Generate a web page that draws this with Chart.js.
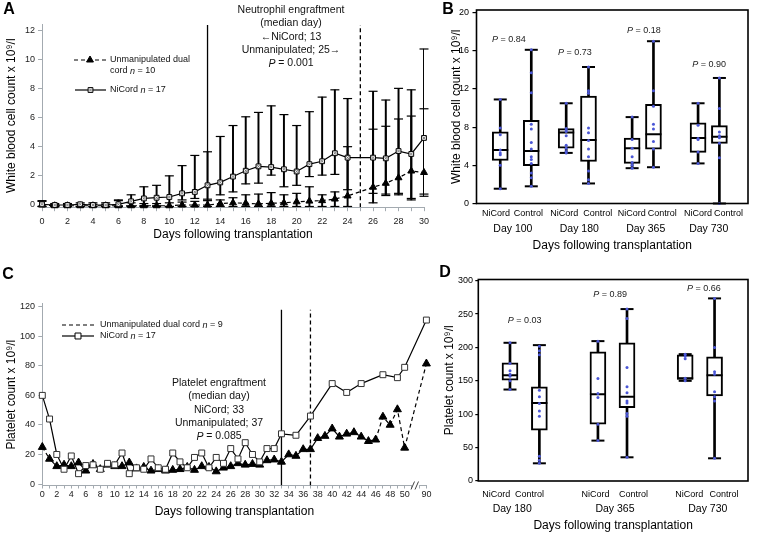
<!DOCTYPE html>
<html>
<head>
<meta charset="utf-8">
<title>NiCord engraftment</title>
<script src="https://cdn.jsdelivr.net/npm/chart.js@4.4.1/dist/chart.umd.min.js"></script>
<style>
  html, body { margin: 0; padding: 0; background: #fff; }
  body { position: relative; width: 758px; height: 541px; overflow: hidden; }
  canvas { position: absolute; }
</style>
</head>
<body>
<canvas id="chartA" width="432" height="258" style="left:0;top:0"></canvas>
<canvas id="chartB" width="326" height="258" style="left:432px;top:0"></canvas>
<canvas id="chartC" width="432" height="283" style="left:0;top:258px"></canvas>
<canvas id="chartD" width="326" height="283" style="left:432px;top:258px"></canvas>
<script>
// --- Panel A : white blood cells, days 0-30 ---
const aDays = [0,1,2,3,4,5,6,7,8,9,10,11,12,13,14,15,16,17,18,19,20,21,22,23,24,25,26,27,28,29,30];
const aNicord   = [0.05,0,0,0.05,0,0,0.05,0.25,0.45,0.5,0.55,0.8,0.9,1.35,1.55,1.95,2.35,2.65,2.6,2.45,2.3,2.8,3.0,3.55,3.25,null,3.25,3.2,3.7,3.5,4.6];
const aNicordHi = [0.3,0.1,0.1,0.15,0.15,0.15,0.35,0.7,1.25,1.35,2.0,2.7,3.4,3.65,4.7,5.45,6.05,6.35,6.8,6.2,5.45,6.4,7.4,7.9,7.3,null,7.8,7.2,8.0,7.9,10.7];
const aNicordLo = [-0.1,-0.1,-0.1,-0.1,-0.1,-0.1,-0.1,-0.1,-0.05,-0.05,-0.1,0.35,0.45,0.4,0.7,0.9,1.45,1.5,2.05,1.25,1.35,1.95,2.05,2.1,1.05,null,0.15,0.75,0.8,0.35,0.75];
const aDual     = [0,-0.05,-0.05,-0.05,-0.05,-0.05,-0.05,-0.05,-0.05,-0.05,-0.05,0,0,0,0.1,0.15,0.12,0.08,0.12,0.15,0.22,0.27,0.3,0.41,0.62,null,1.22,1.49,1.87,2.33,2.23];
const aDualHi   = [0.25,0.05,0.05,0.05,0.05,0.05,0.3,0.15,0.1,0.1,0.15,0.2,0.25,0.3,0.35,0.5,0.7,0.75,0.85,0.7,0.8,1.25,0.7,0.9,4.0,null,5.2,5.4,5.9,6.1,6.6];
const aDualLo   = [-0.1,-0.1,-0.1,-0.1,-0.1,-0.1,-0.1,-0.1,-0.1,-0.1,-0.1,-0.1,-0.1,-0.1,-0.1,-0.1,-0.1,-0.1,-0.1,-0.1,-0.1,-0.1,-0.1,-0.1,-0.1,null,0.8,0.65,0.7,0.45,0.6];
const aYTicks = [0,2,4,6,8,10,12];
const aYMin = -0.15, aYMax = 12.4;
const aNicEngraft = 13, aDualEngraft = 25;

// --- Panel C : platelets, days 0-50 and 90 ---
const cLabels = ['0','1','2','3','4','5','6','7','8','9','10','11','12','13','14','15','16','17','18','19','20',
  '21','22','23','24','25','26','27','28','29','30','31','32','33','34','35','36','37','38','39','40',
  '41','42','43','44','45','46','47','48','49','50','','','90'];
const cNicord = [60,44,20,10,19,7,12.5,13,10,14,13,21,7,11,10,17,11,10,21,15,11,18,21,11,18,14,24,17,28,20,15,
  24,24,34,null,33,null,46,null,null,68,null,62,null,68,null,null,74,null,72,79,null,null,111];
const cDual = [25,17,12,13,12,14.5,9,13.5,10,13,12,12,14.5,10.5,11.5,9,10,9,9.5,10,11.5,9.5,12,11.5,8.5,11,12,14,13,13.5,13,
  16,16.5,15,20,19,23.5,23.5,31,32.5,37.5,32,34,35,32,29,30,45.5,40,50.5,24.5,null,null,81.5];
const cDualDashFrom = 46;
const cYTicks = [0,20,40,60,80,100,120];
const cYMin = -1, cYMax = 122, cLineTop = 118;
const cNicEngraft = 33, cDualEngraft = 37;

// --- Panel B : WBC box plots ---
const bBoxX = [2.45,5.65,9.25,11.55,16.05,18.25,22.85,25.05];
const bMin = [1.55,1.8,5.3,2.1,3.7,3.8,4.2,0.0];
const bQ1  = [4.5,3.95,5.8,4.4,4.2,5.7,5.35,6.3];
const bMed = [5.6,5.5,7.45,6.65,5.8,7.25,6.85,7.0];
const bQ3  = [7.5,8.7,7.85,11.25,6.85,10.4,8.45,8.15];
const bMax = [10.9,16.1,10.5,14.3,9.05,17.0,10.5,13.15];
const bPoints = [
  [10.9,7.9,7.2,5.6,5.3,5.1,4.0,1.55],
  [16.1,13.7,11.6,8.3,7.8,6.4,5.7,4.9,4.6,4.2,3.2,2.7,1.8],
  [10.5,7.85,7.7,7.55,7.1,6.1,5.8,5.45,5.3],
  [14.3,11.8,11.55,7.9,7.4,6.6,5.7,4.9,3.4,2.5,2.1],
  [9.05,6.7,5.8,4.9,4.3,4.0,3.7],
  [17.0,11.8,10.2,8.3,7.8,6.5,5.7,3.8],
  [10.5,8.2,6.8,6.7,5.4,4.2],
  [13.15,9.95,7.5,7.1,6.9,6.3,4.8,0.0]
];
const bLabelX = [2.0,5.35,9.05,12.5,16.0,19.15,22.85,26.0];
const bLabels = ['NiCord','Control','NiCord','Control','NiCord','Control','NiCord','Control'];
const bDayX = [3.75,10.6,17.45,23.95];
const bDays = ['Day 100','Day 180','Day 365','Day 730'];
const bPX = [3.35,10.15,17.25,24.0];
const bPY = [17.2,15.8,18.15,14.6];
const bP = ['0.84','0.73','0.18','0.90'];
const bYTicks = [0,4,8,12,16,20];

// --- Panel D : platelet box plots ---
const dBoxX = [3.27,6.3,12.34,15.34,21.34,24.37];
const dMin = [137,26.5,60.5,35.5,150,34];
const dQ1  = [151,76,85,110,152,127.5];
const dMed = [158.5,117,130,126,154,158.5];
const dQ3  = [177,141,193.5,207,189,186];
const dMax = [207,203.5,209.5,257.5,190,273.5];
const dPoints = [
  [207,176,165,160,157,150,137],
  [202,195,189,136,126,116,105,97,37,31,26.5],
  [209.5,153.5,131,125,85,60.5],
  [257.5,243.5,170,141,132,120,117,101,97,35.5],
  [190,187,183,154,150],
  [273.5,200,163.5,160,133.5,126,120,34]
];
const dLabelX = [1.84,5.27,12.1,16.0,21.77,25.34];
const dLabels = ['NiCord','Control','NiCord','Control','NiCord','Control'];
const dDayX = [3.5,14.1,23.67];
const dDays = ['Day 180','Day 365','Day 730'];
const dPX = [4.77,13.6,23.27];
const dPY = [241,278.6,288.6];
const dP = ['0.03','0.89','0.66'];
const dYTicks = [0,50,100,150,200,250,300];

const FONT = '"Liberation Sans", Arial, Helvetica, sans-serif';
const AXIS_GRAY = '#a3aab0';

Chart.defaults.font.family = FONT;
Chart.defaults.color = '#111';
Chart.defaults.animation = false;
Chart.defaults.events = [];
Chart.defaults.plugins.legend.display = false;
Chart.defaults.plugins.tooltip.enabled = false;

function setFont(ctx, size, style) {
    ctx.font = (style ? style + ' ' : '') + size + 'px ' + FONT;
}

// text with *italic* parts
function richText(ctx, str, x, y, size, align) {
    const parts = str.split('*').map((t, i) => ({ t, it: i % 2 === 1 }));
    let total = 0;
    parts.forEach(p => { setFont(ctx, size, p.it ? 'italic' : ''); p.w = ctx.measureText(p.t).width; total += p.w; });
    let cx = align === 'center' ? x - total / 2 : x;
    ctx.textAlign = 'left';
    ctx.textBaseline = 'middle';
    parts.forEach(p => { setFont(ctx, size, p.it ? 'italic' : ''); ctx.fillText(p.t, cx, y); cx += p.w; });
}

function panelLetter(ctx, letter, x, y) {
    setFont(ctx, 16, 'bold');
    ctx.fillStyle = '#000';
    ctx.textAlign = 'center';
    ctx.textBaseline = 'middle';
    ctx.fillText(letter, x, y);
}

function legendSample(ctx, x1, x2, y, dash, style, r, fill, cross) {
    ctx.save();
    ctx.strokeStyle = '#000';
    ctx.lineWidth = 1.2;
    ctx.setLineDash(dash);
    ctx.beginPath(); ctx.moveTo(x1, y); ctx.lineTo(x2, y); ctx.stroke();
    ctx.setLineDash([]);
    if (style) {
        ctx.fillStyle = fill;
        ctx.lineWidth = 1;
        Chart.helpers.drawPoint(ctx, { pointStyle: style, radius: r, rotation: 0, borderWidth: 1 }, (x1 + x2) / 2, y);
    }
    if (cross) {
        ctx.strokeStyle = '#666';
        ctx.lineWidth = 0.8;
        Chart.helpers.drawPoint(ctx, { pointStyle: 'crossRot', radius: cross, rotation: 0, borderWidth: 0.8 }, (x1 + x2) / 2, y);
    }
    ctx.restore();
}

function fixWidth(w) {
    return s => { s.width = w; s.paddingTop = 0; s.paddingBottom = 0; s.paddingLeft = 0; s.paddingRight = 0; };
}
function fixHeight(h) {
    return s => { s.height = h; s.paddingTop = 0; s.paddingBottom = 0; s.paddingLeft = 0; s.paddingRight = 0; };
}
function setTicks(values) {
    return s => { s.ticks = values.map(v => ({ value: v })); };
}

// ---------- Panel A ----------
const aPoints = arr => aDays.map((d, i) => ({ x: d, y: arr[i] })).filter(p => p.y !== null);
const aBars = (lo, hi) => aDays.map((d, i) => ({ x: d, y: [lo[i], hi[i]] })).filter(p => p.y[0] !== null);

new Chart(document.getElementById('chartA'), {
    type: 'line',
    data: {
        datasets: [
            { type: 'scatter', data: aPoints(aNicord), pointStyle: 'crossRot', pointRadius: 2.2,
              pointBorderColor: '#666', pointBorderWidth: 0.8, clip: false, order: 0 },
            { label: 'NiCord n = 17', data: aPoints(aNicord), borderColor: '#000', borderWidth: 1.2,
              pointStyle: 'rect', pointRadius: 3.4, pointBackgroundColor: '#f2f2f2', pointBorderColor: '#000',
              pointBorderWidth: 1, spanGaps: true, clip: false, order: 1 },
            { label: 'Unmanipulated dual cord n = 10', data: aPoints(aDual), borderColor: '#000', borderWidth: 1.2,
              borderDash: [4, 3], pointStyle: 'triangle', pointRadius: 4, pointBackgroundColor: '#000',
              pointBorderColor: '#000', pointBorderWidth: 1, spanGaps: true, clip: false, order: 2 },
            { type: 'scatter', data: [aNicordHi, aNicordLo, aDualHi, aDualLo].flatMap(aPoints), pointStyle: 'line',
              pointRadius: 4.5, pointBorderColor: '#000', pointBorderWidth: 1.2, clip: false, order: 3 },
            { type: 'bar', data: aBars(aNicordLo, aNicordHi), backgroundColor: '#000', barThickness: 1.3, grouped: false, order: 4 },
            { type: 'bar', data: aBars(aDualLo, aDualHi), backgroundColor: '#000', barThickness: 1.3, grouped: false, order: 5 },
            { data: [{ x: aNicEngraft, y: aYMin }, { x: aNicEngraft, y: aYMax - 0.05 }], borderColor: '#000',
              borderWidth: 1.3, pointRadius: 0, order: 6 },
            { data: [{ x: aDualEngraft, y: aYMin }, { x: aDualEngraft, y: aYMax - 0.05 }], borderColor: '#000',
              borderWidth: 1.3, borderDash: [4, 3], pointRadius: 0, order: 7 }
        ]
    },
    options: {
        responsive: false,
        devicePixelRatio: 1,
        layout: { padding: { left: 0, right: 8, top: 24.2, bottom: 0 } },
        scales: {
            x: {
                type: 'linear', min: 0, max: 30, offset: false,
                afterBuildTicks: setTicks(aDays),
                afterFit: fixHeight(50.8),
                ticks: { autoSkip: false, maxRotation: 0, padding: 4.6, font: { size: 9 }, color: '#222',
                         callback: v => (v % 2 === 0 ? v : '') },
                grid: { offset: false, drawOnChartArea: false, tickLength: 4, color: AXIS_GRAY },
                border: { color: AXIS_GRAY, width: 1 },
                title: { display: true, text: 'Days following transplantation', font: { size: 12 }, color: '#000',
                         padding: { top: 0, bottom: 15.8 } }
            },
            y: {
                type: 'linear', min: aYMin, max: aYMax,
                afterBuildTicks: setTicks(aYTicks),
                afterFit: fixWidth(42),
                ticks: { padding: 3, font: { size: 9 }, color: '#222' },
                grid: { drawOnChartArea: false, tickLength: 4, color: AXIS_GRAY },
                border: { color: AXIS_GRAY, width: 1 },
                title: { display: true, text: 'White blood cell count x 10⁹/l', font: { size: 12 }, color: '#000',
                         padding: { top: 4.8, bottom: 0 } }
            }
        }
    },
    plugins: [{
        id: 'panelA',
        afterDraw(chart) {
            const ctx = chart.ctx;
            ctx.save();
            panelLetter(ctx, 'A', 9, 10);
            ctx.fillStyle = '#111';
            ['Neutrophil engraftment', '(median day)', '\u2190NiCord; 13', 'Unmanipulated; 25\u2192', '*P* = 0.001']
                .forEach((t, i) => richText(ctx, t, 291, 10 + i * 13.4, 10.5, 'center'));
            legendSample(ctx, 74, 106, 60, [4, 3], 'triangle', 4, '#000');
            legendSample(ctx, 75, 106, 90, [], 'rect', 3.4, '#f2f2f2', 2.2);
            ctx.fillStyle = '#111';
            richText(ctx, 'Unmanipulated dual', 110, 60, 9, 'left');
            richText(ctx, 'cord *n* = 10', 110, 71, 9, 'left');
            richText(ctx, 'NiCord *n* = 17', 110, 90, 9, 'left');
            ctx.restore();
        }
    }]
});

// ---------- Panel C ----------
new Chart(document.getElementById('chartC'), {
    type: 'line',
    data: {
        labels: cLabels,
        datasets: [
            { label: 'NiCord n = 17', data: cNicord, borderColor: '#000', borderWidth: 1.2, pointStyle: 'rect',
              pointRadius: 4.2, pointBackgroundColor: '#fff', pointBorderColor: '#333', pointBorderWidth: 1,
              spanGaps: true, clip: false, order: 1 },
            { label: 'Unmanipulated dual cord n = 9', data: cDual, borderColor: '#000', borderWidth: 1.2,
              pointStyle: 'triangle', pointRadius: 4.6, pointBackgroundColor: '#000', pointBorderColor: '#000',
              pointBorderWidth: 1, spanGaps: true, clip: false, order: 2,
              segment: { borderDash: c => (c.p0DataIndex === 0 || c.p0DataIndex >= cDualDashFrom) ? [4, 3] : undefined } },
            { data: [{ x: String(cNicEngraft), y: cYMin }, { x: String(cNicEngraft), y: cLineTop }], borderColor: '#000',
              borderWidth: 1.3, pointRadius: 0, order: 3 },
            { data: [{ x: String(cDualEngraft), y: cYMin }, { x: String(cDualEngraft), y: cLineTop }], borderColor: '#000',
              borderWidth: 1.3, borderDash: [4, 3], pointRadius: 0, order: 4 }
        ]
    },
    options: {
        responsive: false,
        devicePixelRatio: 1,
        layout: { padding: { left: 0, right: 3.7, top: 45.8, bottom: 0 } },
        scales: {
            x: {
                type: 'category', offset: false,
                afterFit: fixHeight(55.5),
                ticks: { autoSkip: false, maxRotation: 0, padding: 1.1, font: { size: 9 }, color: '#222',
                         callback: v => { const l = cLabels[v]; return (l === '90' || (l !== '' && Number(l) % 2 === 0)) ? l : ''; } },
                grid: { offset: false, drawOnChartArea: false, tickLength: 3, color: AXIS_GRAY },
                border: { color: AXIS_GRAY, width: 1 },
                title: { display: true, text: 'Days following transplantation', font: { size: 12 }, color: '#000',
                         padding: { top: 0, bottom: 22.1 } }
            },
            y: {
                type: 'linear', min: cYMin, max: cYMax,
                afterBuildTicks: setTicks(cYTicks),
                afterFit: fixWidth(42.3),
                ticks: { padding: 3.3, font: { size: 9 }, color: '#222' },
                grid: { drawOnChartArea: false, tickLength: 4, color: AXIS_GRAY },
                border: { color: AXIS_GRAY, width: 1 },
                title: { display: true, text: 'Platelet count x 10⁹/l', font: { size: 12 }, color: '#000',
                         padding: { top: 4.8, bottom: 0 } }
            }
        }
    },
    plugins: [{
        id: 'panelC',
        afterDraw(chart) {
            const { ctx, chartArea } = chart;
            const xs = chart.scales.x;
            ctx.save();
            // axis break between day 50 and day 90
            const bx = xs.getPixelForValue(51.5);
            const by = chartArea.bottom;
            ctx.fillStyle = '#fff';
            ctx.fillRect(bx - 3.5, by - 2, 7, 6);
            ctx.strokeStyle = '#444';
            ctx.lineWidth = 1;
            ctx.beginPath();
            ctx.moveTo(bx - 4.5, by + 4); ctx.lineTo(bx - 1, by - 4);
            ctx.moveTo(bx - 0.5, by + 4); ctx.lineTo(bx + 3, by - 4);
            ctx.stroke();
            panelLetter(ctx, 'C', 8, 17);
            ctx.fillStyle = '#111';
            ['Platelet engraftment', '(median day)', 'NiCord; 33', 'Unmanipulated; 37', '*P* = 0.085']
                .forEach((t, i) => richText(ctx, t, 219, 125 + i * 13.4, 10.5, 'center'));
            legendSample(ctx, 62, 94, 67, [4, 3], null);
            legendSample(ctx, 62, 94, 78, [], 'rect', 4.2, '#fff');
            ctx.fillStyle = '#111';
            richText(ctx, 'Unmanipulated dual cord *n* = 9', 100, 67, 9, 'left');
            richText(ctx, 'NiCord *n* = 17', 100, 78, 9, 'left');
            ctx.restore();
        }
    }]
});

// ---------- Panels B and D : box plots ----------
function boxDatasets(pos, mn, q1, md, q3, mx, pts) {
    const at = arr => pos.map((x, i) => ({ x, y: arr[i] }));
    const dots = pos.flatMap((x, i) => pts[i].map(v => ({ x, y: v })));
    return [
        { type: 'scatter', data: dots, pointRadius: 1.5, pointBackgroundColor: '#4b57d6', pointBorderWidth: 0, clip: false, order: 1 },
        { type: 'scatter', data: at(md), pointStyle: 'line', pointRadius: 8, pointBorderColor: '#000', pointBorderWidth: 2, order: 2 },
        { type: 'scatter', data: at(mn).concat(at(mx)), pointStyle: 'line', pointRadius: 6.5, pointBorderColor: '#000',
          pointBorderWidth: 2, clip: false, order: 3 },
        { type: 'bar', data: pos.map((x, i) => ({ x, y: [q1[i], q3[i]] })), backgroundColor: '#fff', borderColor: '#000',
          borderWidth: 2, borderSkipped: false, barThickness: 16, grouped: false, order: 4 },
        { type: 'bar', data: pos.map((x, i) => ({ x, y: [mn[i], mx[i]] })), backgroundColor: '#000', barThickness: 2,
          grouped: false, order: 5 }
    ];
}

function boxPlugin(letter, lx, ly, dayX, dayLabels, dayDy, pX, pY, pTxt) {
    return {
        id: 'box' + letter,
        afterDraw(chart) {
            const { ctx, chartArea } = chart;
            const { x, y } = chart.scales;
            ctx.save();
            ctx.strokeStyle = '#000';
            ctx.lineWidth = 1.6;
            ctx.strokeRect(chartArea.left, chartArea.top, chartArea.right - chartArea.left, chartArea.bottom - chartArea.top);
            ctx.fillStyle = '#000';
            setFont(ctx, 10.5);
            ctx.textAlign = 'center';
            ctx.textBaseline = 'middle';
            dayX.forEach((v, i) => ctx.fillText(dayLabels[i], x.getPixelForValue(v), chartArea.bottom + dayDy));
            ctx.fillStyle = '#222';
            pX.forEach((v, i) => richText(ctx, '*P* = ' + pTxt[i], x.getPixelForValue(v), y.getPixelForValue(pY[i]), 9, 'center'));
            panelLetter(ctx, letter, lx, ly);
            ctx.restore();
        }
    };
}

function boxOptions(xMax, yMax, yTicks, labelX, labels, yTitle, o) {
    return {
        responsive: false,
        devicePixelRatio: 1,
        layout: { padding: { left: 0, right: o.right, top: o.top, bottom: 0 } },
        scales: {
            x: {
                type: 'linear', min: 0, max: xMax, offset: false,
                afterBuildTicks: setTicks(labelX),
                afterFit: fixHeight(o.xHeight),
                ticks: { autoSkip: false, maxRotation: 0, padding: o.labelPad, font: { size: 9 }, color: '#000',
                         callback: (v, i) => labels[i] },
                grid: { display: false, drawTicks: false, offset: false },
                border: { display: false },
                title: { display: true, text: 'Days following transplantation', font: { size: 12 }, color: '#000',
                         padding: { top: 0, bottom: o.titlePad } }
            },
            y: {
                type: 'linear', min: 0, max: yMax,
                afterBuildTicks: setTicks(yTicks),
                afterFit: fixWidth(o.yWidth),
                ticks: { padding: o.tickPad, font: { size: 9 }, color: '#000' },
                grid: { drawOnChartArea: false, tickLength: o.tickLen, color: '#000', lineWidth: 1.2 },
                border: { display: false },
                title: { display: true, text: yTitle, font: { size: 12 }, color: '#000',
                         padding: { top: o.yTitlePad, bottom: 0 } }
            }
        }
    };
}

new Chart(document.getElementById('chartB'), {
    type: 'bar',
    data: { datasets: boxDatasets(bBoxX, bMin, bQ1, bMed, bQ3, bMax, bPoints) },
    options: boxOptions(28, 20.27, bYTicks, bLabelX, bLabels, 'White blood cell count x 10⁹/l',
        { right: 1.3, top: 2.7, xHeight: 54.5, yWidth: 44.5, labelPad: 4.4, titlePad: 5.5, tickPad: 3.5, tickLen: 4, yTitlePad: 17.8 }),
    plugins: [boxPlugin('B', 16, 10, bDayX, bDays, 25.8, bPX, bPY, bP)]
});

new Chart(document.getElementById('chartD'), {
    type: 'bar',
    data: { datasets: boxDatasets(dBoxX, dMin, dQ1, dMed, dQ3, dMax, dPoints) },
    options: boxOptions(27.82, 301.8, dYTicks, dLabelX, dLabels, 'Platelet count x 10⁹/l',
        { right: 1.5, top: 21.5, xHeight: 60, yWidth: 46.3, labelPad: 8.6, titlePad: 8.1, tickPad: 2.2, tickLen: 3, yTitlePad: 10.8 }),
    plugins: [boxPlugin('D', 13, 15, dDayX, dDays, 28.3, dPX, dPY, dP)]
});
</script>
</body>
</html>
